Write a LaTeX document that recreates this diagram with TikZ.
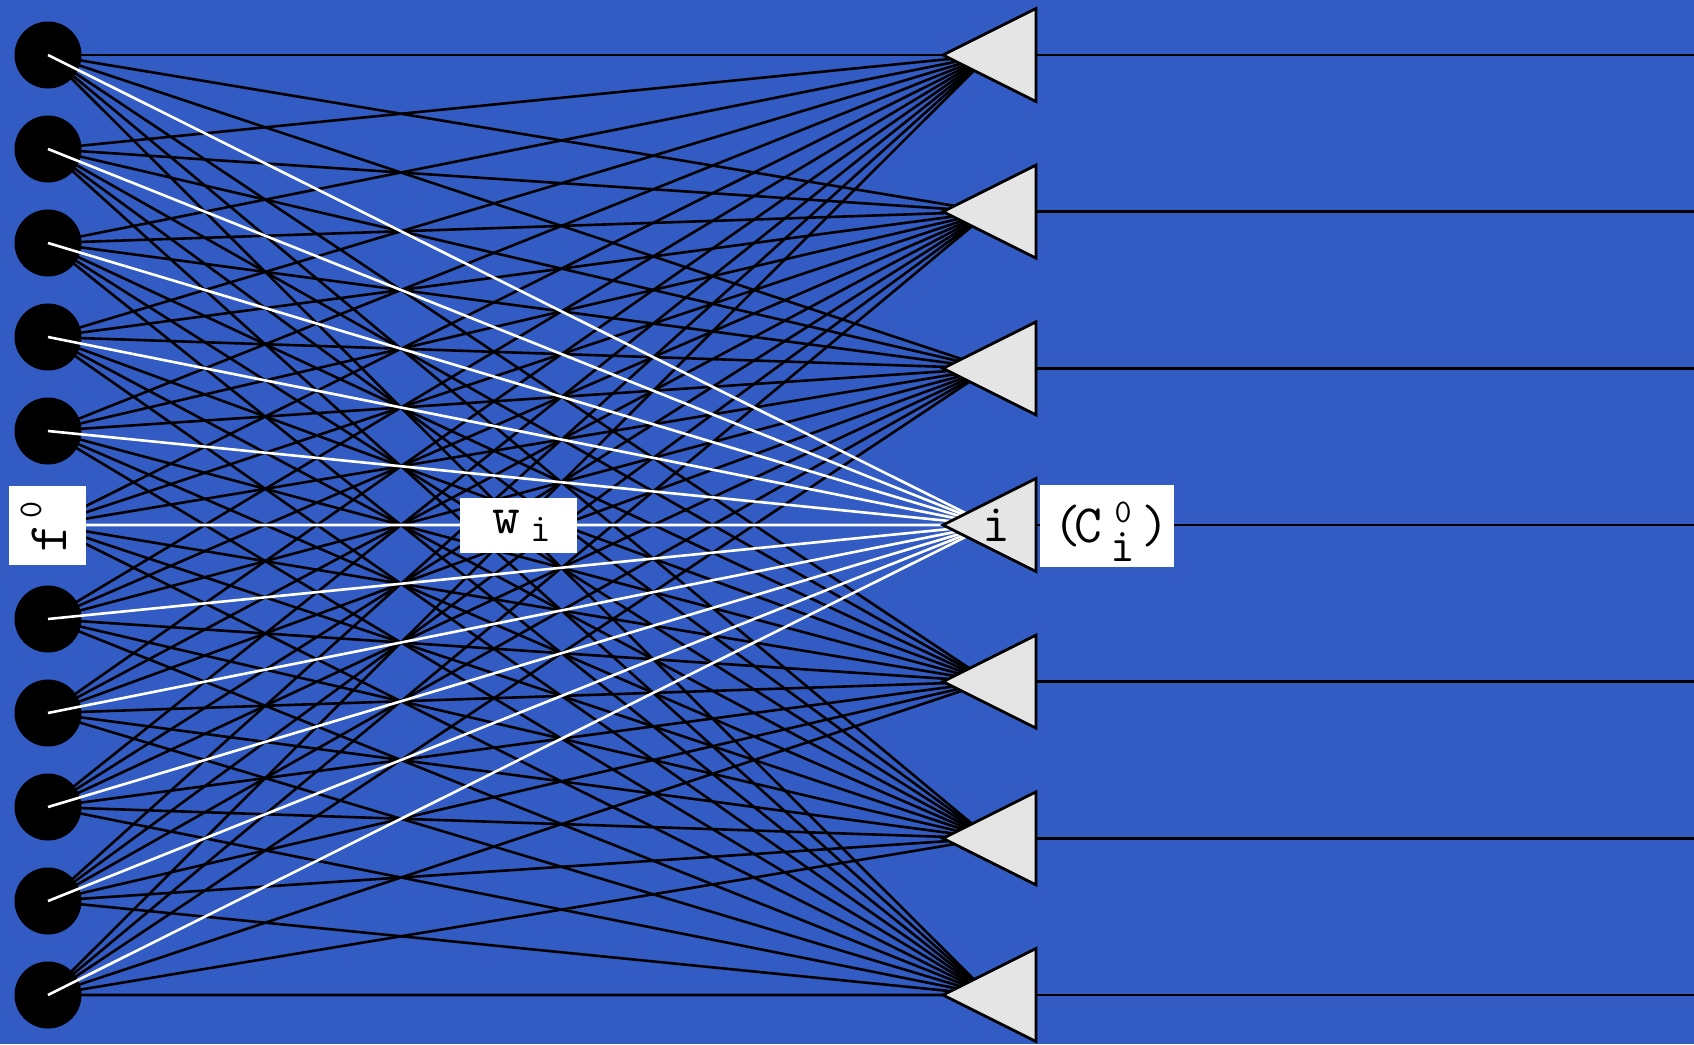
\documentclass[tikz,border=0pt]{standalone}
\usetikzlibrary{calc}
\definecolor{bgblue}{RGB}{50,91,196}
\definecolor{trifill}{RGB}{229,229,229}
\newcommand{\ttsz}[1]{\fontsize{#1}{#1}\selectfont\ttfamily}
\newcommand{\ctr}[1]{\makebox[0pt][c]{#1}}
\begin{document}
\begin{tikzpicture}[x=1pt,y=-1pt,
  conn/.style={line width=2.6pt, draw=black},
  hot/.style={line width=2.6pt, draw=white},
  innode/.style={circle, fill=black, minimum size=67pt, inner sep=0pt},
  tri/.style={draw=black, fill=trifill, line width=2.8pt, line join=miter},
  lbl/.style={fill=white, inner sep=0pt, font=\ttsz{54}},
  txt/.style={inner sep=0pt, font=\ttsz{54}},
]
\fill[bgblue] (0,0) rectangle (1694,1044);
\useasboundingbox (0,0) rectangle (1694,1044);
% inputs
\foreach \k in {0,1,2,3,4,6,7,8,9,10}
  \node[innode] (in\k) at (48,{55+94*\k}) {};
\coordinate (in5) at (48,525);
% outputs (triangle centres) and line ends
\foreach \j in {0,...,6} {
  \coordinate (out\j) at (989.5,{55+156.6667*\j});
  \coordinate (end\j) at (1694,{55+156.6667*\j});
}
% connections
\foreach \k in {0,...,10}
  \foreach \j in {0,1,2,4,5,6}
    \draw[conn] (in\k.center) -- (out\j);
\foreach \k in {0,...,10}
  \draw[hot] (in\k.center) -- (out3);
% output lines and triangles
\foreach \j in {0,...,6} {
  \draw[conn] ($(out\j)+(46.5,0)$) -- (end\j);
  \draw[tri] ($(out\j)+(-46.5,0)$) -- ++(93,-46.5) -- ++(0,93) -- cycle;
}
% labels
\node[txt] (ilbl) at (996.5,525.5) {i};
\node[lbl, text width=79pt, text height=57pt, text depth=20pt, rotate=90] (f0) at (47.5,525.5)
  {\hbox to 79pt{\hspace*{26.5pt}\ctr{\ttsz{56}f}\hspace*{28.5pt}\ctr{\raisebox{25pt}{\ttsz{33}0}}\hfill}};
\node[lbl, text width=117pt, text height=35pt, text depth=20pt] (w) at (518.5,525.5)
  {\hbox to 117pt{\hspace*{46.5pt}\ctr{w}\hspace*{34.5pt}\ctr{\raisebox{-8pt}{\ttsz{40}i}}\hfill}};
\node[lbl, text width=134pt, text height=57pt, text depth=25pt] (c) at (1107,526)
  {\hbox to 134pt{\hspace*{27pt}\ctr{(}\hspace*{21pt}\ctr{C}\hspace*{35pt}\ctr{\raisebox{20pt}{\ttsz{33}0}}\ctr{\raisebox{-19pt}{\ttsz{48}i}}\hspace*{32pt}\ctr{)}\hfill}};
\end{tikzpicture}
\end{document}
